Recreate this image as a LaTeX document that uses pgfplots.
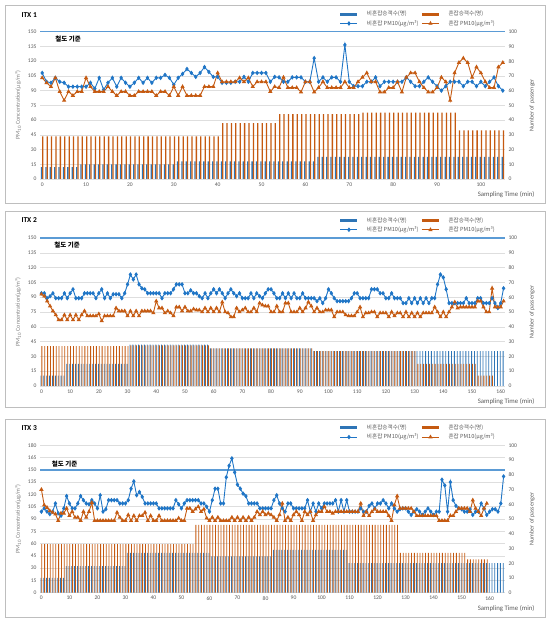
\documentclass[border=0pt]{standalone}
\usepackage{pgfplots}
\pgfplotsset{compat=1.18}
\usepackage{pgfplotstable}
\usepackage{fontspec}
\setmainfont{Carlito}
\newfontfamily\kr{Noto Sans CJK KR}
\definecolor{blc}{RGB}{31,117,198}
\definecolor{orc}{RGB}{197,90,17}
\definecolor{barb}{RGB}{46,117,182}
\definecolor{baro}{RGB}{197,90,17}
\definecolor{railc}{RGB}{91,155,213}
\definecolor{gridc}{RGB}{222,222,222}
\definecolor{tickc}{RGB}{89,89,89}
\definecolor{labc}{RGB}{128,128,128}
\definecolor{boxc}{RGB}{190,190,190}

\pgfplotstableread{
t pb pc nb nc
0 108 103 8 29
1 99 98 8 29
2 98 94 8 29
3 103 103 8 29
4 99 89 8 29
5 98 80 8 29
6 94 89 8 29
7 94 85 8 29
8 94 89 8 29
9 94 89 10 29
10 94 103 10 29
11 98 94 10 29
12 92 89 10 29
13 103 89 10 29
14 91 89 10 29
15 98 94 10 29
16 103 89 10 29
17 94 85 10 29
18 103 89 10 29
19 98 89 10 29
20 94 85 10 29
21 98 85 10 29
22 103 89 10 29
23 98 89 10 29
24 103 89 10 29
25 98 89 10 29
26 103 85 10 29
27 103 89 10 29
28 106 89 10 29
29 103 85 10 29
30 96 94 10 29
31 103 85 12 29
32 107 94 12 29
33 112 85 12 29
34 108 85 12 29
35 104 85 12 29
36 108 85 12 29
37 114 94 12 29
38 109 94 12 29
39 104 94 12 29
40 104 108 12 29
41 98 99 12 38
42 98 99 12 38
43 98 99 12 38
44 99 99 12 38
45 99 103 12 38
46 104 99 12 38
47 99 103 12 38
48 108 94 12 38
49 108 99 12 38
50 108 99 12 38
51 108 99 12 38
52 99 89 12 38
53 104 94 12 38
54 103.5 93 12 44
55 99 103.5 12 44
56 99 93 12 44
57 103.5 93 12 44
58 103.5 93 12 44
59 103.5 88.5 12 44
60 99 99 12 44
61 99 99 12 44
62 123 88.5 12 44
63 99 93 15 44
64 103.5 99 15 44
65 99 93 15 44
66 103.5 93 15 44
67 103.5 93 15 44
68 99 93 15 44
69 136.5 99 15 44
70 99 93 15 44
71 94.5 93 15 44
72 94.5 99 15 44
73 94.5 103.5 15 45
74 99 108 15 45
75 99 99 15 45
76 103.5 99 15 45
77 94.5 88.5 15 45
78 99 88.5 15 45
79 99 93 15 45
80 99 93 15 45
81 99 99 15 45
82 99 88.5 15 45
83 103.5 103.5 15 45
84 99 108 15 45
85 94.5 108 15 45
86 94.5 99 15 45
87 99 93 15 45
88 103.5 88.5 15 45
89 99 88.5 15 45
90 94.5 93 15 45
91 90 103.5 15 45
92 94.5 99 15 45
93 99 80 15 45
94 99 108 15 45
95 99 118.5 15 33
96 94.5 123 15 33
97 99 118.5 15 33
98 99 103.5 15 33
99 94.5 114 15 33
100 99 108 15 33
101 94.5 99 15 33
102 99 93 15 33
103 103.5 93 15 33
104 94.5 114 15 33
105 90 118.5 15 33
}\tA

\pgfplotstableread{
t pb pc nb nc
0 94 93 7 27
1 94 91 7 27
2 89 86 7 27
3 91 81 7 27
4 94 76 7 27
5 89 72 7 27
6 89 67 7 27
7 89 67 7 27
8 94 72 7 27
9 89 67 15 27
10 94 72 15 27
11 98 67 15 27
12 89 72 15 27
13 89 67 15 27
14 89 72 15 27
15 94 76 15 27
16 94 71 15 27
17 94 71 15 27
18 94 71 15 27
19 89 71 15 27
20 94 73 15 27
21 98 66 15 27
22 89 71 15 27
23 94 71 15 27
24 89 71 15 27
25 93 71 15 27
26 93 79 15 27
27 93 76 15 27
28 89 76 15 27
29 94 76 15 27
30 103 71 15 27
31 113 76 28 27.5
32 108 71 28 27.5
33 113 76 28 27.5
34 103 71 28 27.5
35 99 76 28 27.5
36 98 76 28 27.5
37 94 76 28 27.5
38 94 76 28 27.5
39 94 74 28 27.5
40 94 86 28 27.5
41 94 79 28 27.5
42 89 79 28 27.5
43 94 74 28 27.5
44 94 76 28 27.5
45 94 74 28 27.5
46 98 71 28 27.5
47 103 80 28 27.5
48 103 80 28 27.5
49 103 76 28 27.5
50 94 80 28 27.5
51 94 76 28 27.5
52 97 76 28 27.5
53 94 78 28 27.5
54 94 77 28 27.5
55 91 77 28 27.5
56 89 75 28 27.5
57 94 79 28 27.5
58 89 75 28 27.5
59 94 79 25.5 25.5
60 98 75 25.5 25.5
61 94 79 25.5 25.5
62 98 75 25.5 25.5
63 94 85 25.5 25.5
64 89 75 25.5 25.5
65 94 74 25.5 25.5
66 98 70 25.5 25.5
67 94 70 25.5 25.5
68 91 79 25.5 25.5
69 94 75 25.5 25.5
70 89 77 25.5 25.5
71 89 79 25.5 25.5
72 89 75 25.5 25.5
73 94 75 25.5 25.5
74 89 79 25.5 25.5
75 94 75 25.5 25.5
76 91 84 25.5 25.5
77 89 82 25.5 25.5
78 94 81 25.5 25.5
79 98 81 25.5 25.5
80 98 75 25.5 25.5
81 94 75 25.5 25.5
82 89 81 25.5 25.5
83 89 75 25.5 25.5
84 94 75 25.5 25.5
85 89 84 25.5 25.5
86 94 84 25.5 25.5
87 89 75 25.5 25.5
88 94 75 25.5 25.5
89 89 75 25.5 25.5
90 89 79 25.5 25.5
91 94 75 25.5 25.5
92 89 79 25.5 25.5
93 89 85 25.5 25.5
94 89 81 25.5 25.5
95 89 75 23.5 23.5
96 86 79 23.5 23.5
97 89 75 23.5 23.5
98 84 75 23.5 23.5
99 89 77 23.5 23.5
100 98 77 23.5 23.5
101 94 77 23.5 23.5
102 89 70 23.5 23.5
103 86 75 23.5 23.5
104 86 75 23.5 23.5
105 86 75 23.5 23.5
106 86 72 23.5 23.5
107 86 71 23.5 23.5
108 89 71 23.5 23.5
109 94 71 23.5 23.5
110 94 75 23.5 23.5
111 89 80 23.5 23.5
112 89 70 23.5 23.5
113 89 74 23.5 23.5
114 89 74 23.5 23.5
115 98 75 23.5 23.5
116 98 75 23.5 23.5
117 98 70 23.5 23.5
118 94 74 23.5 23.5
119 94 74 23.5 23.5
120 89 74 23.5 23.5
121 89 70 23.5 23.5
122 94 75 23.5 23.5
123 89 71 23.5 23.5
124 89 74 23.5 23.5
125 89 74 23.5 23.5
126 84 70 23.5 23.5
127 84 75 23.5 23.5
128 89 70 23.5 23.5
129 84 74 23.5 23.5
130 89 70 23.5 23.5
131 84 74 23.5 15
132 89 70 23.5 15
133 84 74 23.5 15
134 89 74 23.5 15
135 84 74 23.5 15
136 89 74 23.5 15
137 89 80 23.5 15
138 103 75 23.5 15
139 113 70 23.5 15
140 110 75 23.5 15
141 98 70 23.5 15
142 84 75 23.5 15
143 84 80 23.5 15
144 84 85 23.5 15
145 84 79 23.5 15
146 84 80 23.5 15
147 84 80 23.5 15
148 89 80 23.5 15
149 84 80 23.5 15
150 84 80 23.5 15
151 84 80 23.5 15
152 89 86 23.5 7
153 89 86 23.5 7
154 84 80 23.5 7
155 84 75 23.5 7
156 84 75 23.5 7
157 89 99 23.5 7
158 84 80 23.5 nan
159 79 80 23.5 nan
160 84 80 23.5 nan
161 99 86 23.5 nan
}\tB

\pgfplotstableread{
t pb pc nb nc
0 99 126 10 33
1 103 107 10 33
2 99 104 10 33
3 96 100 10 33
4 99 98 10 33
5 109 96 10 33
6 97 88 10 33
7 94 97 10 33
8 103 97 10 33
9 118 103 18 33
10 109 94 18 33
11 103 99 18 33
12 103 92 18 33
13 109 92 18 33
14 118 88 18 33
15 113 99 18 33
16 109 92 18 33
17 108 99 18 33
18 113 110 18 33
19 109 88 18 33
20 103 88 18 33
21 119 88 18 33
22 99 88 18 33
23 102 88 18 33
24 113 88 18 33
25 113 88 18 33
26 113 88 18 33
27 113 98 18 33
28 109 92 18 33
29 109 88 18 33
30 109 88 18 33
31 113 95 27 33
32 127 88 27 33
33 136 94 27 33
34 119 88 27 33
35 123 94 27 33
36 117 94 27 33
37 109 98 27 33
38 109 88 27 33
39 109 94 27 33
40 109 88 27 33
41 109 88 27 33
42 103 94 27 33
43 103 88 27 33
44 103 88 27 33
45 103 88 27 33
46 103 88 27 33
47 103 88 27 33
48 113 88 27 33
49 108 91 27 33
50 103 88 27 33
51 109 88 27 33
52 113 103 27 33
53 113 103 27 33
54 113 99 27 33
55 113 102 27 46
56 113 105 27 46
57 109 99 27 46
58 109 102 27 46
59 105 91 27 46
60 99 88 27 46
61 113 92 24.7 46
62 127 88 24.7 46
63 127 92 24.7 46
64 109 88 24.7 46
65 109 88 24.7 46
66 141 88 24.7 46
67 155 88 24.7 46
68 164 92 24.7 46
69 147 88 24.7 46
70 132 92 24.7 46
71 127 88 24.7 46
72 121 92 24.7 46
73 118 88 24.7 46
74 109 92 24.7 46
75 109 88 24.7 46
76 109 92 24.7 46
77 109 99 24.7 46
78 103 95 24.7 46
79 103 99 24.7 46
80 103 95 24.7 46
81 103 97 24.7 46
82 103 95 24.7 46
83 113 92 29 46
84 119 88 29 46
85 109 95 29 46
86 103 109 29 46
87 99 88 29 46
88 109 92 29 46
89 109 88 29 46
90 103 95 29 46
91 103 99 29 46
92 103 95 29 46
93 103 88 29 46
94 103 99 29 46
95 113 95 29 46
96 99 99 29 46
97 109 88 29 46
98 99 95 29 46
99 109 99 29 46
100 103 99 29 46
101 109 105 29 46
102 109 99 29 46
103 109 99 29 46
104 109 97 29 46
105 113 99 29 46
106 99 99 29 46
107 113 99 29 46
108 99 99 29 46
109 113 99 29 46
110 99 99 20 46
111 99 99 20 46
112 99 99 20 46
113 99 99 20 46
114 103 109 20 46
115 99 94 20 46
116 99 99 20 46
117 106 94 20 46
118 109 99 20 46
119 103 102 20 46
120 109 99 20 46
121 109 99 20 46
122 113 99 20 46
123 109 99 20 46
124 103 94 20 46
125 109 88 20 46
126 103 107 20 46
127 99 118 20 46
128 102 103 20 27
129 103 103 20 27
130 103 103 20 27
131 99 103 20 27
132 95 103 20 27
133 99 99 20 27
134 102 94 20 27
135 99 94 20 27
136 95 94 20 27
137 99 94 20 27
138 103 94 20 27
139 99 94 20 27
140 95 94 20 27
141 99 94 20 27
142 99 88 20 27
143 138 88 20 27
144 131 88 20 27
145 99 88 20 27
146 135 94 20 27
147 113 94 20 27
148 106 99 20 27
149 103 103 20 27
150 102 103 20 27
151 99 103 20 27
152 99 103 20 22.6
153 102 99 20 22.6
154 95 113 20 22.6
155 99 103 20 22.6
156 99 99 20 22.6
157 109 94 20 22.6
158 103 103 20 22.6
159 95 109 20 22.6
160 99 nan 20 nan
161 102 nan 20 nan
162 102 nan 20 nan
163 99 nan 20 nan
164 109 nan 20 nan
165 142 nan 20 nan
}\tC

\pgfplotsset{
  base/.style={scale only axis, width=465pt, xmin=-0.5,
    axis line style={draw=none}, major tick length=0pt,
    tick label style={font=\fontsize{5.6}{6}\selectfont, text=tickc},
    /pgf/number format/assume math mode=true},
  gridax/.style={base, ymin=0, ytick distance=15, xtick distance=10,
    ymajorgrids, grid style={gridc, line width=0.5pt},
    ylabel={PM\textsubscript{10} Concentration(μg/m³)},
    ylabel style={at={(rel axis cs:-0.047,0.5)}, anchor=center, rotate=0,
      font=\fontsize{6}{7}\selectfont, text=labc},
    xlabel={Sampling Time (min)},
    xlabel style={at={(rel axis cs:1.071,0)}, anchor=east, yshift=-16pt,
      font=\fontsize{6.8}{8}\selectfont, text=tickc}},
  barax/.style={base, ymin=0, ymax=100, ytick distance=10,
    axis y line*=right, axis x line=none,
    ylabel={Number of passenger},
    ylabel style={at={(rel axis cs:1.058,0.5)}, anchor=center,
      font=\fontsize{6}{7}\selectfont, text=tickc}},
  lineax/.style={base, ymin=0, hide axis, clip=false,
    legend columns=2,
    legend style={at={(0.985,1.012)}, anchor=south east, draw=none, fill=none,
      font=\kr\fontsize{5.6}{6.6}\selectfont, text=tickc,
      /tikz/every odd column/.append style={column sep=6pt},
      row sep=-1pt, inner sep=1pt},
    legend cell align=left},
  bl/.style={ybar, bar width=0.29, bar shift=-0.145, fill=barb, draw=none},
  bo/.style={ybar, bar width=0.29, bar shift=0.145, fill=baro, draw=none},
  pl/.style={blc, line width=0.9pt, mark=diamond*, mark size=1.6pt, mark options={fill=blc, draw=blc}},
  po/.style={orc, line width=0.9pt, mark=triangle*, mark size=1.6pt, mark options={fill=orc, draw=orc}},
}

\newcommand\legendset{%
  \addlegendimage{barb, line width=3pt}
  \addlegendentry{비혼잡승객수(명)}
  \addlegendimage{baro, line width=3pt}
  \addlegendentry{혼잡승객수(명)}
}

\begin{document}
\begin{tikzpicture}[x=1pt,y=1pt]
\path[use as bounding box] (0,0) rectangle (550,620);
% panel borders
\draw[boxc, line width=0.9pt] (5,417) rectangle (545,615);
\draw[boxc, line width=0.9pt] (5,213) rectangle (545,409);
\draw[boxc, line width=0.9pt] (5,3) rectangle (545,201);
\node[anchor=west, font=\bfseries\fontsize{7.5}{8}\selectfont] at (18,605) {ITX 1};
\node[anchor=west, font=\bfseries\fontsize{7.5}{8}\selectfont] at (18,400) {ITX 2};
\node[anchor=west, font=\bfseries\fontsize{7.5}{8}\selectfont] at (18,192) {ITX 3};

% ===== ITX 1 =====
\begin{axis}[gridax, at={(40pt,441pt)}, anchor=south west, height=147.3pt, xmax=105.5, ymax=150]
\addplot[draw=none] coordinates {(0,0)};
\end{axis}
\begin{axis}[barax, at={(40pt,441pt)}, anchor=south west, height=147.3pt, xmax=105.5]
\addplot[bl] table[x=t,y=nb]{\tA};
\addplot[bo] table[x=t,y=nc]{\tA};
\end{axis}
\begin{axis}[lineax, at={(40pt,441pt)}, anchor=south west, height=147.3pt, xmax=105.5, ymax=150]
\addplot[railc, line width=1.6pt, forget plot] coordinates {(-0.5,150) (105.5,150)};
\legendset
\addplot[pl] table[x=t,y=pb]{\tA};
\addlegendentry{비혼잡 PM10(μg/m³)}
\addplot[po] table[x=t,y=pc]{\tA};
\addlegendentry{혼잡 PM10(μg/m³)}
\node[anchor=west, font=\kr\bfseries\fontsize{6.5}{7}\selectfont] at (axis cs:2.2,143) {철도 기준};
\end{axis}

% ===== ITX 2 =====
\begin{axis}[gridax, at={(40pt,234pt)}, anchor=south west, height=148pt, xmax=161.5, ymax=150]
\addplot[draw=none] coordinates {(0,0)};
\end{axis}
\begin{axis}[barax, at={(40pt,234pt)}, anchor=south west, height=148pt, xmax=161.5]
\addplot[bl] table[x=t,y=nb]{\tB};
\addplot[bo] table[x=t,y=nc]{\tB};
\end{axis}
\begin{axis}[lineax, at={(40pt,234pt)}, anchor=south west, height=148pt, xmax=161.5, ymax=150]
\addplot[railc, line width=1.6pt, forget plot] coordinates {(-0.5,150) (161.5,150)};
\legendset
\addplot[pl] table[x=t,y=pb]{\tB};
\addlegendentry{비혼잡 PM10(μg/m³)}
\addplot[po] table[x=t,y=pc]{\tB};
\addlegendentry{혼잡 PM10(μg/m³)}
\node[anchor=west, font=\kr\bfseries\fontsize{6.5}{7}\selectfont] at (axis cs:3.3,143) {철도 기준};
\end{axis}

% ===== ITX 3 =====
\begin{axis}[gridax, at={(40pt,27.3pt)}, anchor=south west, height=147.4pt, xmax=165.5, ymax=180]
\addplot[draw=none] coordinates {(0,0)};
\end{axis}
\begin{axis}[barax, at={(40pt,27.3pt)}, anchor=south west, height=147.4pt, xmax=165.5]
\addplot[bl] table[x=t,y=nb]{\tC};
\addplot[bo] table[x=t,y=nc]{\tC};
\end{axis}
\begin{axis}[lineax, at={(40pt,27.3pt)}, anchor=south west, height=147.4pt, xmax=165.5, ymax=180]
\addplot[railc, line width=1.6pt, forget plot] coordinates {(-0.5,150) (165.5,150)};
\legendset
\addplot[pl] table[x=t,y=pb]{\tC};
\addlegendentry{비혼잡 PM10(μg/m³)}
\addplot[po] table[x=t,y=pc]{\tC};
\addlegendentry{혼잡 PM10(μg/m³)}
\node[anchor=west, font=\kr\bfseries\fontsize{6.5}{7}\selectfont] at (axis cs:2.5,157) {철도 기준};
\end{axis}
\end{tikzpicture}
\end{document}
